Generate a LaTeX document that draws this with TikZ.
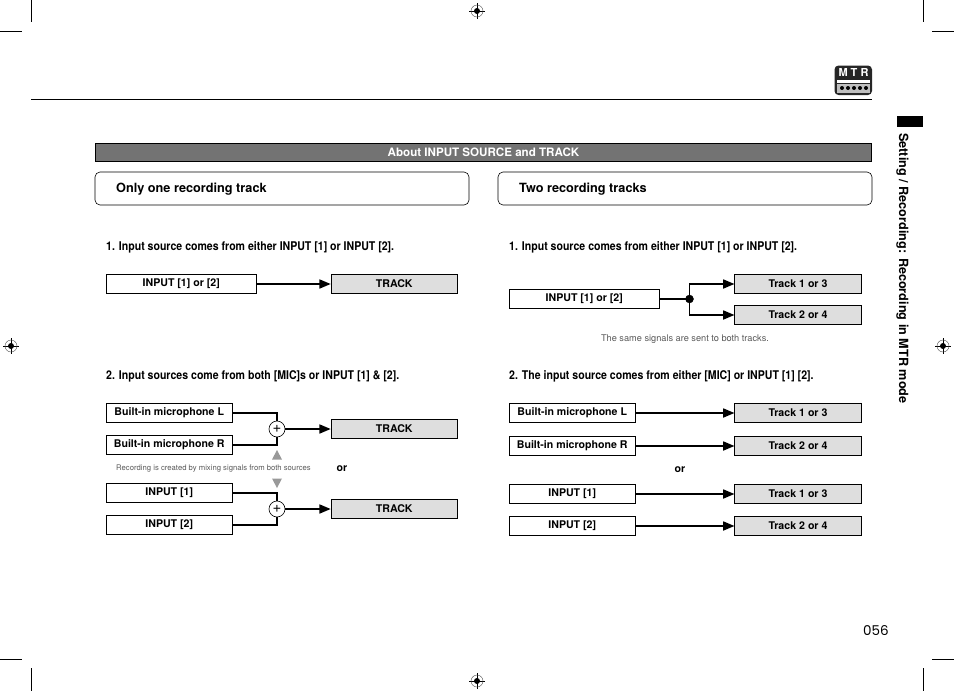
\documentclass[tikz,border=0pt]{standalone}
\usepackage{fontspec}
\setmainfont{TeX Gyre Heros}
\newfontfamily\narrowfont[FakeStretch=0.88]{TeX Gyre Heros}
\newfontfamily\pagefont{Poppins}
\usetikzlibrary{arrows,positioning}
\newcommand{\regmark}[1]{
  \draw[thick] (#1) ++(-8,0) -- ++(16,0) (#1) ++(0,-8) -- ++(0,16);
  \draw[black!70] (#1) circle (6);
  \fill[black] (#1) circle (3);
}
\begin{document}
\begin{tikzpicture}[x=1pt,y=-1pt,font=\bfseries\fontsize{10.6}{12}\selectfont]
\tikzstyle{inbox}=[draw,line width=0.8pt,fill=white,minimum height=19pt,inner sep=0pt]
\tikzstyle{trackbox}=[draw,line width=0.8pt,fill=black!13,minimum width=126.5pt,minimum height=19pt,inner sep=0pt]
\tikzstyle{headbox}=[draw,line width=0.6pt,rounded corners=5pt,minimum width=374pt,minimum height=33pt]
\tikzstyle{mixer}=[draw,circle,fill=white,line width=0.6pt,minimum size=16pt,inner sep=0pt,font=\normalfont\fontsize{15}{15}\selectfont]
\tikzstyle{wire}=[line width=1.6pt,-triangle 45]
\tikzstyle{plainwire}=[line width=1.6pt]
\tikzstyle{steptext}=[anchor=west,inner sep=0pt,font=\narrowfont\bfseries\fontsize{12}{14}\selectfont]
\tikzstyle{headtext}=[anchor=west,inner sep=0pt,font=\bfseries\fontsize{12.7}{14}\selectfont]
\tikzstyle{note}=[inner sep=0pt,text=black!65,font=\normalfont\fontsize{9.2}{11}\selectfont]
% end of definitions
\useasboundingbox (0,0) rectangle (954,691);
% crop marks
\draw[line width=0.7pt] (31,0) -- (31,22) (0,31) -- (22,31) (923,0) -- (923,22) (932,31) -- (954,31);
\draw[line width=0.7pt] (31,668) -- (31,691) (0,659) -- (22,659) (923,668) -- (923,691) (932,659) -- (954,659);
\regmark{477,11}
\regmark{11,346}
\regmark{943,346}
\regmark{477,681}
% page furniture
\draw[line width=0.8pt] (31,99.5) -- (872,99.5);
\fill[black] (896.5,116) rectangle (923,127);
\node[rotate=-90,anchor=west,inner sep=0pt,font=\bfseries\fontsize{12.65}{14}\selectfont] (sidetext) at (902.5,133) {Setting / Recording: Recording in MTR mode};
\node[inner sep=0pt,font=\pagefont\fontsize{13.5}{16}\selectfont] (pagenum) at (876,631) {056};
\fill[black!85,rounded corners=4pt] (834.5,65.5) rectangle (872,95);
\node[text=white,inner sep=0pt,font=\bfseries\fontsize{11}{11}\selectfont] (mtr) at (853.5,72.5) {M T R};
\fill[white] (836.5,80) rectangle (870,83);
\fill[black!25] (836.5,84) rectangle (870,93);
\foreach \px in {842,848,854,860,866}
  \fill[black] (\px,88) circle (2);
% title bar
\node[draw,line width=0.8pt,fill=black!55,text=white,minimum width=776.5pt,minimum height=18pt,inner sep=0pt,font=\bfseries\fontsize{11.6}{13}\selectfont] (titlebar) at (483.5,152) {About INPUT SOURCE and TRACK};
\node[headbox] (headl) at (282,188.5) {};
\node[headtext] (headltxt) at (116,189) {Only one recording track};
\node[headbox] (headr) at (685,188.5) {};
\node[headtext] (headrtxt) at (519,189) {Two recording tracks};
% left column, case 1
\node[steptext] (stepla) at (106,247) {1. Input source comes from either INPUT [1] or INPUT [2].};
\node[inbox,minimum width=150.5pt] (inla) at (181.25,284) {INPUT [1] or [2]};
\node[trackbox] (trla) at (394.25,284) {TRACK};
\draw[wire] (inla) -- (trla);
% left column, case 2
\node[steptext] (steplb) at (106,376) {2. Input sources come from both [MIC]s or INPUT [1] \& [2].};
\node[inbox,minimum width=126.5pt] (micl) at (169.25,413) {Built-in microphone L};
\node[inbox,minimum width=126.5pt] (micr) at (169.25,445) {Built-in microphone R};
\node[mixer] (mixa) at (277,429) {+};
\node[trackbox] (trlb) at (394.25,429) {TRACK};
\draw[plainwire] (micl) -| (mixa);
\draw[plainwire] (micr) -| (mixa);
\draw[wire] (mixa) -- (trlb);
\fill[black!40] (272,459.5) -- (282,459.5) -- (277,450) -- cycle;
\node[note,font=\normalfont\fontsize{7.7}{9}\selectfont] (mixnote) at (213.5,468.5) {Recording is created by mixing signals from both sources};
\node[inner sep=0pt] (orl) at (342,469) {or};
\fill[black!40] (272,478.5) -- (282,478.5) -- (277,488) -- cycle;
\node[inbox,minimum width=126.5pt] (inl1) at (169.25,493) {INPUT [1]};
\node[inbox,minimum width=126.5pt] (inl2) at (169.25,525) {INPUT [2]};
\node[mixer] (mixb) at (277,509) {+};
\node[trackbox] (trlc) at (394.25,509) {TRACK};
\draw[plainwire] (inl1) -| (mixb);
\draw[plainwire] (inl2) -| (mixb);
\draw[wire] (mixb) -- (trlc);
% right column, case 1
\node[steptext] (stepra) at (509,247) {1. Input source comes from either INPUT [1] or INPUT [2].};
\node[inbox,minimum width=150.5pt] (inra) at (584.25,299) {INPUT [1] or [2]};
\node[trackbox] (trra) at (798,284) {Track 1 or 3};
\node[trackbox] (trrb) at (798,315) {Track 2 or 4};
\coordinate (split) at (689.5,299);
\filldraw[black] (split) circle (4);
\draw[plainwire] (inra) -- (split);
\draw[wire] (split) |- (trra);
\draw[wire] (split) |- (trrb);
\node[note] (samenote) at (685,339.5) {The same signals are sent to both tracks.};
% right column, case 2
\node[steptext] (steprb) at (509,376) {2. The input source comes from either [MIC] or INPUT [1] [2].};
\node[inbox,minimum width=126.5pt] (inr1) at (572.25,413) {Built-in microphone L};
\node[inbox,minimum width=126.5pt] (inr2) at (572.25,446) {Built-in microphone R};
\node[inbox,minimum width=126.5pt] (inr3) at (572.25,494) {INPUT [1]};
\node[inbox,minimum width=126.5pt] (inr4) at (572.25,526) {INPUT [2]};
\node[trackbox] (trr1) at (798,413) {Track 1 or 3};
\node[trackbox] (trr2) at (798,446) {Track 2 or 4};
\node[trackbox] (trr3) at (798,494) {Track 1 or 3};
\node[trackbox] (trr4) at (798,526) {Track 2 or 4};
\node[inner sep=0pt] (orr) at (680,470) {or};
\foreach \rowno in {1,2,3,4}
  \draw[wire] (inr\rowno) -- (trr\rowno);
\end{tikzpicture}
\end{document}
